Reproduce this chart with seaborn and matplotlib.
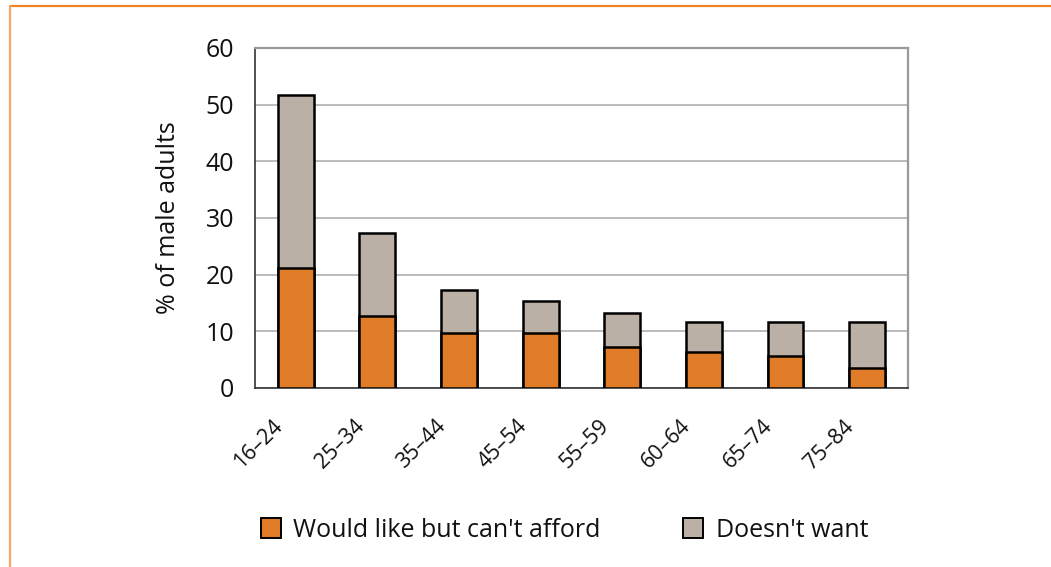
import numpy as np
import pandas as pd
import matplotlib.pyplot as plt
import matplotlib.transforms as mtransforms
import seaborn as sns
from matplotlib.lines import Line2D
from matplotlib.patches import Patch

# data
age_groups   = ['16–24', '25–34', '35–44', '45–54', '55–59', '60–64', '65–74', '75–84']
cant_afford  = [21.2, 12.7, 9.7, 9.7, 7.2, 6.3, 5.6, 3.5]
doesnt_want  = [30.5, 14.7, 7.6, 5.7, 6.1, 5.3, 6.0, 8.1]
y_ticks      = [0, 10, 20, 30, 40, 50, 60]

orange = '#E07B28'
grey   = '#BAB0A6'

sns.set_style('white')
plt.rcParams['font.family'] = ['Open Sans', 'DejaVu Sans']
plt.rcParams['font.size'] = 16
plt.rcParams['text.color'] = '#111111'
plt.rcParams['axes.labelcolor'] = '#111111'
plt.rcParams['xtick.labelcolor'] = '#111111'
plt.rcParams['ytick.labelcolor'] = '#111111'

df = pd.DataFrame({
    'Age': age_groups,
    'afford': cant_afford,
    'total': np.array(cant_afford) + np.array(doesnt_want),
})

fig = plt.figure(figsize=(10.51, 5.67), dpi=100)
ax = fig.add_axes([0.2426, 0.3157, 0.6213, 0.5997])

# stacked bars: draw the totals first, then the lower segment on top
sns.barplot(data=df, x='Age', y='total', color=grey, width=0.44,
            edgecolor='black', linewidth=1.8, saturation=1, ax=ax, zorder=3)
sns.barplot(data=df, x='Age', y='afford', color=orange, width=0.44,
            edgecolor='black', linewidth=1.8, saturation=1, ax=ax, zorder=4)

ax.set_xlim(-0.5, len(age_groups) - 0.5)
ax.set_ylim(0, 60)
ax.set_yticks(y_ticks)
ax.yaxis.grid(True, color='#A8A8A8', linewidth=1.1, zorder=0)
ax.set_axisbelow(True)

ax.set_xticks(range(len(age_groups)))
ax.set_xticklabels(age_groups, rotation=45, ha='right', fontsize=15.5)
ax.set_xticks(np.arange(-0.5, len(age_groups)), minor=True)
ax.tick_params(axis='x', which='major', length=0, pad=20)
ax.tick_params(axis='x', which='minor', length=6, width=1, color='#555555', direction='out')
ax.tick_params(axis='y', length=6, width=1, color='#555555', direction='out', labelsize=18, pad=9)
ax.set_xlabel('')
ax.set_ylabel('% of male adults', fontsize=18, labelpad=18)

# nudge the rotated labels a little to the left, as in the original
shift = mtransforms.ScaledTranslation(-9 / 100, 0, fig.dpi_scale_trans)
for lab in ax.get_xticklabels():
    lab.set_transform(lab.get_transform() + shift)

for side in ['left', 'bottom']:
    ax.spines[side].set_color('#333333')
    ax.spines[side].set_linewidth(1.2)
for side in ['top', 'right']:
    ax.spines[side].set_color('#999999')
    ax.spines[side].set_linewidth(1.6)

handles = [Patch(facecolor=orange, edgecolor='black', linewidth=1.4),
           Patch(facecolor=grey, edgecolor='black', linewidth=1.4)]
fig.legend(handles, ["Would like but can't afford", "Doesn't want"],
           loc='center', bbox_to_anchor=(0.537, 0.065), ncol=2, frameon=False,
           fontsize=18, handlelength=0.8, handleheight=0.8, handletextpad=0.5,
           columnspacing=3.3)

# orange frame lines on the top and left of the figure
fig.add_artist(Line2D([0.0095, 1.0], [0.989, 0.989], color='#F08424', linewidth=1.6))
fig.add_artist(Line2D([0.0095, 0.0095], [0.0, 0.989], color='#F4A868', linewidth=1.6))

plt.savefig('out.png', dpi=100)
